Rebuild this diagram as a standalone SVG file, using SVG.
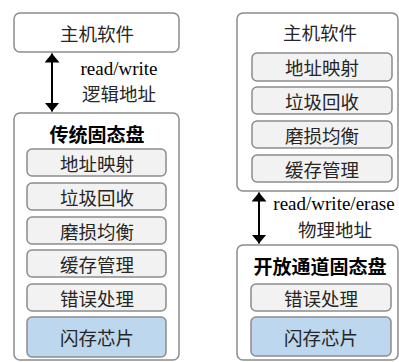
<svg xmlns="http://www.w3.org/2000/svg" width="399" height="362" viewBox="0 0 399 362">
<defs>
<style>
.outer{fill:#ffffff;stroke:#8c8c8c;stroke-width:1.5}
.inner{fill:#f2f2f2;stroke:#8c8c8c;stroke-width:1.5}
.flash{fill:#bdd7ee;stroke:#8c8c8c;stroke-width:1.5}
.cjk{font-family:"Noto Sans CJK SC","Noto Sans",sans-serif;font-size:18.5px;fill:#262626;text-anchor:middle;dominant-baseline:central}
.title{font-family:"Noto Sans CJK SC","Noto Sans",sans-serif;font-size:19px;font-weight:bold;fill:#000;text-anchor:middle;dominant-baseline:central}
.lat{font-family:"Liberation Serif",serif;font-size:19px;fill:#000;text-anchor:middle}
.conn{stroke:#000;stroke-width:2;fill:none}
</style>
<marker id="ah" viewBox="0 0 10 10" refX="10" refY="5" markerWidth="4.5" markerHeight="7.5" markerUnits="strokeWidth" orient="auto-start-reverse" preserveAspectRatio="none">
<path d="M0,0 L10,5 L0,10 z" fill="#000"/>
</marker>
</defs>

<g id="host-left">
<rect class="outer" x="14" y="13" width="165" height="39" rx="6"/>
<text class="cjk" x="97" y="33">主机软件</text>
</g>

<g id="ssd-left">
<rect class="outer" x="14" y="113" width="165" height="247" rx="6"/>
<text class="title" x="97" y="133">传统固态盘</text>
</g>
<g id="l-map"><rect class="inner" x="27" y="149" width="139" height="27" rx="5"/><text class="cjk" x="97" y="162.5">地址映射</text></g>
<g id="l-gc"><rect class="inner" x="27" y="183" width="139" height="27" rx="5"/><text class="cjk" x="97" y="196.5">垃圾回收</text></g>
<g id="l-wl"><rect class="inner" x="27" y="217" width="139" height="27" rx="5"/><text class="cjk" x="97" y="230.5">磨损均衡</text></g>
<g id="l-cache"><rect class="inner" x="27" y="250" width="139" height="27" rx="5"/><text class="cjk" x="97" y="263.5">缓存管理</text></g>
<g id="l-ecc"><rect class="inner" x="27" y="284" width="139" height="27" rx="5"/><text class="cjk" x="97" y="297.5">错误处理</text></g>
<g id="l-flash"><rect class="flash" x="27" y="317" width="139" height="40" rx="5"/><text class="cjk" x="97" y="337">闪存芯片</text></g>

<g id="host-right">
<rect class="outer" x="237" y="13" width="161" height="178" rx="6"/>
<text class="cjk" x="320" y="32">主机软件</text>
</g>
<g id="r-map"><rect class="inner" x="252" y="53" width="140" height="28" rx="5"/><text class="cjk" x="322" y="67">地址映射</text></g>
<g id="r-gc"><rect class="inner" x="252" y="87" width="140" height="27" rx="5"/><text class="cjk" x="322" y="100.5">垃圾回收</text></g>
<g id="r-wl"><rect class="inner" x="252" y="121" width="140" height="27" rx="5"/><text class="cjk" x="322" y="134.5">磨损均衡</text></g>
<g id="r-cache"><rect class="inner" x="252" y="155" width="140" height="27" rx="5"/><text class="cjk" x="322" y="168.5">缓存管理</text></g>

<g id="ssd-right">
<rect class="outer" x="237" y="245" width="161" height="115" rx="6"/>
<text class="title" x="320" y="265">开放通道固态盘</text>
</g>
<g id="r-ecc"><rect class="inner" x="251" y="284" width="140" height="27" rx="5"/><text class="cjk" x="321" y="297.5">错误处理</text></g>
<g id="r-flash"><rect class="flash" x="251" y="317" width="140" height="39" rx="5"/><text class="cjk" x="321" y="336.5">闪存芯片</text></g>

<g id="connectors">
<line class="conn" x1="52" y1="53.5" x2="52" y2="111.5" marker-start="url(#ah)" marker-end="url(#ah)"/>
<text class="lat" x="119" y="75">read/write</text>
<text class="cjk" x="119" y="93">逻辑地址</text>
<line class="conn" x1="259" y1="192.5" x2="259" y2="243.5" marker-start="url(#ah)" marker-end="url(#ah)"/>
<text class="lat" x="334" y="210">read/write/erase</text>
<text class="cjk" x="335" y="229">物理地址</text>
</g>
</svg>
